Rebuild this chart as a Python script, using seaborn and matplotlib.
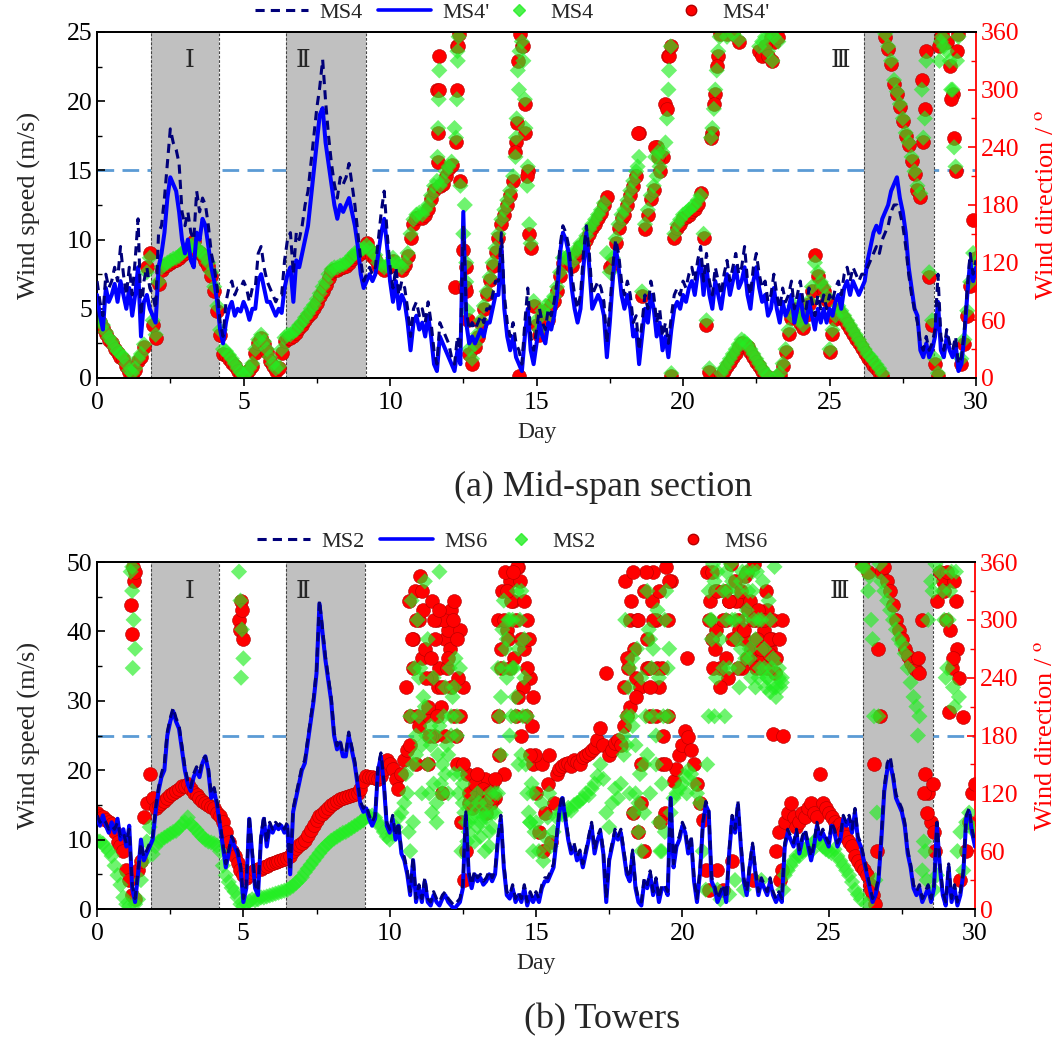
"""
Wind speed / wind direction time histories
(a) mid-span section, (b) towers
"""

import numpy as np
import matplotlib
matplotlib.use("Agg")
import matplotlib.pyplot as plt
import matplotlib.transforms as mtransforms
from matplotlib.lines import Line2D
from matplotlib.ticker import MultipleLocator
import seaborn as sns

sns.set_theme(style="ticks", rc={"axes.edgecolor": "black", "axes.linewidth": 1.3,
                                 "xtick.color": "black", "ytick.color": "black"})
plt.rcParams["font.family"] = ["Liberation Serif", "DejaVu Serif"]
plt.rcParams["mathtext.fontset"] = "stix"

# sampling positions (0.1 day)
day = np.round(np.arange(301) * 0.1, 1)

# ---------------- (a) mid-span section ----------------
ms4_speed = [
    7.0, 5.5, 4.5, 7.5, 6.5, 7.0, 8.0, 7.0, 9.5, 7.5,
    6.0, 8.0, 6.0, 8.5, 11.5, 4.5, 7.0, 8.0, 6.5, 6.0,
    5.0, 10.5, 11.0, 13.0, 15.5, 18.0, 17.0, 16.5, 15.5, 12.0,
    11.0, 12.0, 10.5, 10.0, 13.5, 12.0, 13.0, 12.5, 11.0, 9.0,
    8.0, 6.5, 4.0, 3.0, 5.5, 6.5, 7.0, 6.0, 6.5, 6.5,
    7.0, 6.5, 5.5, 6.5, 6.5, 9.0, 9.5, 8.0, 7.0, 6.5,
    6.0, 5.5, 6.0, 6.0, 8.5, 10.0, 10.5, 7.5, 10.5, 10.0,
    11.0, 12.5, 13.5, 15.5, 17.5, 19.5, 21.0, 23.0, 20.0, 17.5,
    15.5, 14.0, 13.0, 14.5, 14.0, 14.5, 15.5, 14.0, 12.5, 10.5,
    8.5, 7.0, 7.5, 8.0, 7.5, 8.0, 10.0, 12.0, 13.5, 10.5,
    8.0, 6.5, 8.0, 6.0, 7.0, 6.5, 5.0, 3.0, 5.0, 5.5,
    4.5, 5.0, 4.0, 5.5, 4.0, 2.0, 1.0, 4.0, 3.5, 3.0,
    2.5, 1.5, 1.0, 3.0, 2.0, 11.0, 5.0, 3.5, 4.0, 3.5,
    4.0, 4.5, 4.0, 5.0, 5.0, 6.0, 7.0, 7.0, 10.5, 6.0,
    4.0, 3.0, 4.0, 2.5, 2.0, 1.0, 4.0, 6.5, 3.0, 2.0,
    3.5, 5.0, 4.0, 3.5, 5.0, 4.5, 5.5, 7.0, 9.5, 11.0,
    10.5, 9.5, 7.5, 6.0, 5.0, 6.0, 9.0, 11.0, 9.0, 6.0,
    6.5, 7.0, 6.5, 5.5, 2.5, 5.0, 8.0, 10.0, 9.0, 7.0,
    6.0, 7.0, 6.0, 4.0, 4.5, 2.0, 4.0, 6.0, 5.0, 7.0,
    6.0, 4.0, 5.0, 3.0, 4.0, 2.5, 4.5, 6.0, 6.5, 6.0,
    7.0, 6.5, 7.5, 8.0, 7.0, 8.5, 9.5, 7.0, 9.0, 7.0,
    6.0, 8.0, 7.0, 6.0, 7.5, 8.5, 7.0, 8.0, 9.0, 7.5,
    8.0, 9.5, 7.0, 6.0, 8.0, 9.0, 7.5, 6.5, 7.0, 5.5,
    6.0, 7.5, 6.0, 5.0, 6.5, 5.5, 6.0, 7.0, 5.0, 6.0,
    7.0, 5.5, 5.0, 6.5, 5.5, 4.5, 6.0, 5.0, 6.0, 5.0,
    6.0, 5.5, 6.5, 7.0, 6.0, 7.5, 8.0, 7.0, 8.0, 7.5,
    7.0, 7.5, 7.5, 8.0, 8.5, 9.0, 9.5, 9.0, 10.0, 10.5,
    11.0, 12.0, 12.5, 12.5, 12.0, 11.0, 9.5, 7.5, 6.0, 5.0,
    4.0, 2.5, 2.0, 3.0, 2.0, 2.5, 3.5, 7.5, 3.0, 2.0,
    3.5, 2.5, 2.0, 3.0, 1.0, 1.5, 3.5, 6.5, 9.0, 7.5,
    8.5,
]
ms4p_speed = [
    6.0, 4.5, 3.5, 6.5, 5.5, 6.0, 6.8, 5.5, 7.0, 6.0,
    5.0, 6.5, 4.5, 6.0, 8.0, 3.0, 5.5, 6.0, 5.0, 4.5,
    4.0, 8.0, 9.0, 10.5, 13.0, 14.5, 14.0, 13.5, 12.0, 10.0,
    9.0, 10.0, 8.5, 8.0, 10.5, 10.0, 11.5, 11.0, 9.5, 8.0,
    7.0, 5.5, 3.5, 2.5, 4.0, 5.0, 5.5, 4.5, 5.0, 4.8,
    5.5, 5.0, 4.2, 5.0, 5.0, 7.0, 7.5, 6.5, 5.5, 5.5,
    5.0, 4.5, 5.0, 4.7, 6.5, 7.5, 8.0, 5.5, 8.5, 8.0,
    9.0, 10.0, 11.0, 13.0, 15.0, 17.0, 19.0, 19.5, 17.0, 15.5,
    14.0, 12.5, 11.5, 12.5, 12.0, 12.5, 13.0, 12.0, 11.0, 9.5,
    7.5, 6.5, 7.0, 7.5, 7.0, 7.5, 9.0, 10.5, 11.5, 9.5,
    7.0, 5.5, 7.0, 5.0, 6.0, 5.5, 4.0, 2.0, 4.0, 4.5,
    3.5, 4.0, 3.0, 4.5, 3.0, 1.0, 0.5, 3.0, 2.5, 2.0,
    1.5, 1.0, 0.5, 2.0, 1.0, 12.0, 4.0, 2.5, 3.0, 2.5,
    3.0, 3.5, 3.0, 4.0, 4.0, 5.0, 6.0, 6.0, 9.5, 5.0,
    3.0, 2.0, 3.0, 1.5, 1.0, 0.5, 3.0, 5.0, 2.0, 1.0,
    2.5, 4.0, 3.0, 2.5, 4.0, 3.5, 4.5, 6.0, 9.0, 10.5,
    10.0, 9.0, 6.5, 5.0, 4.0, 5.0, 8.0, 10.5, 8.0, 5.0,
    5.5, 6.0, 5.5, 4.5, 1.5, 4.0, 7.0, 9.5, 8.0, 6.0,
    5.0, 6.0, 5.0, 3.0, 3.5, 1.0, 3.0, 5.0, 4.0, 6.0,
    5.0, 3.0, 4.0, 2.0, 3.0, 1.5, 3.5, 5.0, 5.5, 5.0,
    6.0, 5.5, 6.5, 7.0, 6.0, 7.5, 8.5, 6.0, 8.0, 6.0,
    5.0, 7.0, 6.0, 5.0, 6.5, 7.5, 6.0, 7.0, 8.0, 6.5,
    7.0, 8.0, 6.0, 5.0, 7.0, 8.0, 6.5, 5.5, 6.0, 4.5,
    5.0, 6.5, 5.0, 4.0, 5.5, 4.5, 5.0, 6.0, 4.0, 5.0,
    6.0, 4.5, 4.0, 5.5, 4.5, 3.5, 5.0, 4.0, 5.0, 4.0,
    5.0, 4.5, 5.5, 6.0, 5.0, 6.5, 7.0, 6.0, 7.0, 6.5,
    6.0, 6.5, 7.0, 8.5, 9.5, 10.5, 11.0, 10.5, 11.5, 12.0,
    12.5, 13.5, 14.0, 14.5, 13.0, 12.0, 10.5, 8.0, 6.5, 5.0,
    4.5, 2.0, 1.5, 2.5, 1.5, 2.0, 3.0, 5.5, 2.0, 1.5,
    3.0, 2.0, 1.5, 2.5, 0.5, 1.0, 3.0, 6.0, 8.5, 7.0,
    8.0,
]
ms4_dir = [
    65, 60, 55, 48, 42, 38, 32, 28, 25, 22,
    15, 8, 5, 10, 20, 25, 35, 110, 125, 60,
    45, 100, 115, 118, 120, 122, 124, 125, 127, 130,
    133, 135, 137, 140, 134, 132, 130, 125, 120, 110,
    95, 75, 50, 30, 28, 24, 20, 15, 10, 6,
    3, 5, 10, 15, 30, 40, 45, 38, 30, 22,
    15, 10, 12, 30, 42, 45, 45, 48, 50, 55,
    58, 63, 67, 72, 76, 82, 88, 95, 100, 108,
    113, 115, 115, 117, 118, 120, 123, 127, 130, 131,
    133, 135, 138, 135, 130, 128, 120, 118, 115, 117,
    120, 125, 120, 118, 115, 120, 130, 150, 165, 170,
    172, 170, 175, 180, 190, 200, 205, 200, 205, 215,
    220, 225, 260, 340, 200, 150, 120, 30, 20, 35,
    46, 60, 75, 90, 105, 120, 135, 150, 165, 175,
    185, 195, 210, 250, 300, 350, 290, 220, 140, 80,
    60, 50, 70, 75, 65, 80, 85, 95, 110, 125,
    125, 128, 120, 130, 135, 140, 140, 148, 155, 160,
    165, 170, 175, 182, 130, 110, 125, 145, 160, 170,
    175, 185, 195, 205, 215, 230, 90, 160, 175, 190,
    200, 210, 220, 235, 245, 300, 5, 150, 160, 165,
    170, 172, 175, 178, 180, 185, 190, 150, 60, 10,
    260, 300, 340, 5, 10, 15, 20, 25, 30, 35,
    40, 38, 35, 30, 25, 20, 15, 10, 5, 3,
    358, 355, 2, 5, 15, 30, 50, 65, 75, 65,
    60, 55, 70, 80, 95, 120, 110, 100, 95, 85,
    30, 50, 65, 75, 70, 65, 60, 55, 50, 45,
    40, 35, 30, 25, 22, 18, 14, 10, 5, 358,
    345, 330, 310, 298, 285, 270, 255, 245, 230, 215,
    200, 192, 250, 330, 110, 60, 20, 5, 350, 345,
    340, 330, 300, 220, 355, 20, 40, 70, 100, 130,
    120,
]
ms4p_dir = [
    62, 58, 52, 46, 40, 36, 30, 26, 22, 20,
    12, 6, 3, 8, 18, 22, 32, 115, 130, 55,
    42, 98, 112, 116, 118, 120, 122, 123, 125, 128,
    130, 133, 135, 143, 132, 130, 127, 122, 117, 106,
    90, 70, 45, 25, 24, 20, 16, 12, 7, 3,
    1, 3, 8, 12, 26, 36, 42, 35, 27, 18,
    12, 7, 10, 26, 38, 42, 42, 44, 47, 52,
    55, 60, 64, 68, 73, 78, 85, 91, 97, 104,
    110, 112, 112, 114, 115, 117, 120, 124, 127, 128,
    130, 132, 140, 132, 127, 124, 117, 115, 112, 114,
    117, 122, 117, 115, 112, 118, 127, 146, 160, 166,
    168, 166, 170, 176, 186, 196, 300, 200, 202, 210,
    218, 222, 95, 345, 205, 133, 115, 25, 15, 32,
    43, 57, 72, 87, 102, 116, 131, 146, 160, 170,
    180, 190, 205, 245, 2, 345, 285, 215, 135, 75,
    55, 45, 65, 70, 60, 76, 80, 90, 106, 120,
    120, 124, 116, 126, 131, 136, 136, 144, 150, 156,
    160, 166, 172, 180, 188, 115, 120, 140, 156, 166,
    170, 180, 190, 200, 210, 255, 85, 155, 170, 186,
    196, 240, 215, 230, 285, 335, 2, 146, 156, 160,
    166, 168, 170, 174, 176, 181, 192, 146, 55, 6,
    255, 295, 335, 2, 7, 12, 17, 22, 26, 32,
    36, 34, 32, 27, 22, 17, 12, 7, 3, 1,
    355, 350, 1, 3, 12, 27, 46, 62, 72, 62,
    57, 52, 66, 77, 91, 128, 106, 96, 91, 81,
    27, 46, 61, 71, 66, 61, 56, 51, 46, 41,
    36, 31, 26, 21, 18, 14, 10, 6, 2, 355,
    342, 327, 306, 295, 282, 267, 252, 242, 226, 212,
    196, 188, 245, 340, 105, 55, 15, 2, 355, 350,
    350, 325, 295, 215, 358, 15, 35, 65, 96, 164,
    125,
]
# extra direction points where the direction swings quickly (vertical streaks)
extra_day_a = [11.62, 11.64, 11.66, 11.68, 12.25, 12.28, 12.31, 12.34, 12.55, 12.6,
               12.65, 14.28, 14.32, 14.36, 14.42, 14.55, 14.62, 14.68, 14.75, 18.45,
               19.05, 19.15, 19.45, 19.52, 19.58, 20.95, 21.05, 21.15, 21.25, 21.5,
               21.7, 21.9, 22.6, 22.7, 22.8, 22.9, 23.05, 23.25, 28.15, 28.25,
               28.75, 28.85, 29.15, 29.25, 29.35]
extra_ms4_dir = [230, 260, 290, 320, 250, 290, 330, 355, 180, 100,
                 70, 230, 270, 320, 340, 330, 260, 200, 160, 220,
                 230, 235, 270, 320, 345, 250, 280, 320, 355, 355,
                 358, 352, 345, 350, 355, 340, 330, 350, 300, 270,
                 330, 355, 300, 240, 330]
extra_ms4p_dir = [225, 255, 300, 335, 245, 300, 345, 358, 95, 90,
                  60, 235, 265, 330, 358, 345, 255, 210, 150, 255,
                  240, 230, 280, 335, 345, 250, 285, 325, 358, 358,
                  358, 350, 340, 335, 345, 335, 330, 355, 310, 280,
                  345, 358, 290, 250, 340]

# ---------------- (b) towers ----------------
ms2_speed = [
    13.5, 12.5, 13.0, 12.5, 11.5, 12.0, 11.5, 12.5, 10.5, 11.0,
    9.5, 11.5, 3.5, 1.5, 5.5, 9.5, 7.5, 8.5, 9.5, 10.5,
    14.5, 17.5, 19.5, 21.0, 25.5, 27.5, 29.0, 27.5, 26.5, 23.5,
    20.5, 18.5, 17.5, 19.5, 20.5, 19.5, 21.5, 22.0, 20.5, 16.5,
    17.5, 15.5, 12.5, 9.5, 6.5, 8.5, 10.5, 9.5, 8.5, 6.5,
    1.5, 3.5, 13.5, 8.5, 3.5, 2.5, 10.5, 13.5, 9.5, 12.5,
    11.5, 12.5, 12.0, 12.5, 11.5, 12.5, 5.5, 14.5, 16.5, 18.5,
    20.5, 21.5, 24.5, 27.5, 30.5, 34.5, 44.5, 40.5, 36.5, 33.5,
    30.5, 25.5, 23.5, 24.5, 22.5, 22.5, 25.5, 23.5, 21.5, 18.5,
    15.5, 14.5, 15.0, 13.5, 12.5, 13.5, 20.5, 22.5, 18.5, 12.5,
    11.5, 13.5, 10.5, 12.5, 8.5, 7.5, 5.5, 2.5, 7.5, 1.5,
    3.5, 1.5, 4.5, 1.5, 1.0, 2.5, 1.5, 1.0, 2.0, 2.5,
    1.5, 1.0, 0.5, 1.0, 1.5, 3.5, 14.0, 5.5, 3.5, 5.5,
    4.5, 5.0, 4.0, 4.5, 5.5, 4.5, 5.5, 10.5, 13.5, 6.5,
    2.5, 2.0, 3.5, 1.5, 2.5, 1.5, 3.5, 1.0, 2.5, 1.5,
    2.5, 1.5, 3.5, 4.5, 4.5, 5.5, 6.5, 10.5, 14.5, 16.5,
    13.5, 10.5, 8.5, 9.5, 7.5, 8.5, 6.5, 8.5, 10.5, 12.5,
    8.5, 10.5, 11.5, 8.5, 1.5, 7.5, 9.5, 11.5, 10.5, 11.5,
    8.5, 5.5, 4.5, 8.5, 3.5, 1.5, 1.0, 4.5, 3.5, 5.5,
    2.5, 4.5, 1.5, 3.5, 3.5, 2.5, 16.5, 6.5, 9.5, 10.5,
    12.5, 11.5, 8.5, 10.5, 4.5, 1.5, 5.5, 12.5, 15.5, 14.5,
    4.5, 3.5, 1.5, 2.5, 3.5, 1.5, 8.5, 13.5, 11.5, 15.5,
    9.5, 4.5, 2.5, 6.5, 9.5, 5.5, 2.5, 4.5, 3.5, 2.5,
    4.5, 2.5, 1.5, 2.5, 1.5, 9.5, 11.5, 10.5, 9.5, 11.5,
    8.5, 10.5, 11.5, 9.5, 7.5, 9.5, 12.5, 10.5, 11.5, 10.5,
    9.5, 12.5, 11.5, 9.5, 10.5, 13.5, 12.5, 13.5, 11.5, 14.5,
    10.5, 9.5, 7.5, 5.5, 3.5, 1.5, 2.5, 4.5, 10.5, 17.5,
    21.0, 22.0, 19.5, 16.5, 15.5, 14.5, 12.5, 8.5, 6.5, 3.5,
    2.5, 3.5, 1.5, 2.5, 3.5, 1.5, 3.5, 12.5, 6.5, 2.5,
    1.0, 6.5, 1.5, 3.5, 1.0, 2.5, 5.5, 13.5, 14.5, 11.5,
    9.5,
]
ms6_speed = [
    13, 12, 13.5, 12, 11, 12.5, 11, 13, 10, 11.5,
    9, 12, 3, 1, 5, 10, 7, 8, 9, 10,
    14, 17, 19, 20, 25, 27, 28.5, 27, 26, 23,
    20, 18, 17, 19, 20, 19, 21, 22, 20, 16,
    17, 15, 12, 9, 6, 8, 10, 9, 8, 6,
    1, 3, 13, 8, 3, 2, 10, 13, 9, 12,
    11, 12, 11.5, 12, 11, 12, 5, 14, 16, 18,
    20, 21, 24, 27, 30, 34, 44, 40, 36, 33,
    30, 25, 23, 24, 22, 22, 25, 23, 21, 18,
    15, 14, 14.5, 13, 12, 13, 20, 22, 18, 12,
    11, 13, 10, 12, 8, 7, 5, 2, 7, 1,
    3, 1, 4, 1, 0.5, 2, 1, 0.5, 1.5, 2,
    1, 0.5, 0, 0.5, 1, 3, 13.5, 5, 3, 5,
    4, 4.5, 3.5, 4, 5, 4, 5, 10, 13, 6,
    2, 1.5, 3, 1, 2, 1, 3, 0.5, 2, 1,
    2, 1, 3, 4, 4, 5, 6, 10, 14, 16,
    13, 10, 8, 9, 7, 8, 6, 8, 10, 12,
    8, 10, 11, 8, 1, 7, 9, 11, 10, 11,
    8, 5, 4, 8, 3, 1, 0.5, 4, 3, 5,
    2, 4, 1, 3, 3, 2, 16, 6, 9, 10,
    12, 11, 8, 10, 4, 1, 5, 12, 15, 14,
    4, 3, 1, 2, 3, 1, 8, 13, 11, 15,
    9, 4, 2, 6, 9, 5, 2, 4, 3, 2,
    4, 2, 1, 2, 1, 9, 11, 10, 9, 11,
    8, 10, 11, 9, 7, 9, 12, 10, 11, 10,
    9, 12, 11, 9, 10, 13, 12, 13, 11, 14,
    10, 9, 7, 5, 3, 1, 2, 4, 10, 17,
    20, 21, 19, 16, 15, 14, 12, 8, 6, 3,
    2, 3, 1, 2, 3, 1, 3, 12, 6, 2,
    0.5, 6, 1, 3, 0.5, 2, 5, 13, 14, 11,
    9,
]
ms2_dir = [
    71, 70, 68, 64, 60, 55, 45, 35, 25, 12,
    5, 3, 355, 5, 10, 30, 50, 70, 85, 57,
    65, 70, 72, 74, 76, 78, 80, 81, 84, 88,
    90, 95, 88, 85, 82, 78, 75, 72, 70, 69,
    68, 66, 60, 45, 35, 28, 22, 18, 12, 5,
    3, 5, 8, 10, 9, 10, 12, 12, 13, 14,
    15, 16, 17, 18, 19, 20, 22, 24, 27, 30,
    33, 38, 42, 46, 50, 54, 58, 62, 65, 68,
    71, 73, 75, 77, 79, 80, 82, 84, 86, 88,
    90, 92, 96, 96, 97, 95, 90, 85, 80, 75,
    72, 78, 85, 95, 100, 110, 120, 60, 150, 180,
    200, 170, 340, 150, 190, 130, 110, 350, 120, 140,
    160, 200, 230, 180, 140, 110, 90, 80, 95, 100,
    85, 90, 100, 95, 80, 85, 100, 120, 160, 250,
    280, 300, 250, 200, 150, 330, 240, 120, 90, 60,
    90, 60, 110, 75, 95, 65, 80, 95, 100, 98,
    100, 105, 102, 108, 110, 112, 115, 120, 118, 125,
    130, 138, 150, 135, 100, 85, 110, 125, 115, 130,
    180, 170, 250, 190, 120, 80, 60, 150, 330, 280,
    200, 150, 90, 60, 300, 250, 100, 115, 120, 125,
    130, 138, 144, 140, 130, 120, 110, 60, 20, 200,
    280, 340, 20, 10, 250, 350, 15, 300, 30, 250,
    340, 20, 310, 270, 350, 230, 300, 30, 250, 240,
    225, 230, 220, 240, 235, 35, 40, 45, 50, 55,
    55, 60, 62, 65, 60, 70, 72, 68, 65, 62,
    60, 58, 62, 55, 50, 45, 40, 35, 28, 20,
    15, 10, 355, 5, 345, 280, 30, 200, 340, 330,
    320, 310, 300, 290, 280, 275, 265, 250, 235, 220,
    210, 200, 40, 60, 300, 340, 20, 35, 350, 330,
    240, 300, 350, 210, 60, 80, 40, 90, 100, 85,
    80,
]
ms6_dir = [
    100, 97, 95, 92, 90, 88, 80, 70, 65, 60,
    40, 30, 15, 10, 40, 50, 95, 110, 140, 115,
    105, 108, 110, 112, 115, 118, 120, 122, 125, 128,
    128, 130, 125, 120, 118, 115, 112, 110, 108, 106,
    105, 100, 96, 90, 80, 70, 60, 55, 48, 40,
    35, 32, 35, 38, 40, 42, 42, 44, 45, 47,
    48, 49, 50, 51, 52, 53, 55, 60, 63, 66,
    68, 72, 77, 82, 87, 92, 96, 99, 102, 105,
    108, 110, 112, 114, 115, 116, 117, 118, 119, 120,
    125, 133, 138, 137, 137, 136, 135, 138, 145, 155,
    150, 145, 135, 125, 140, 155, 165, 200, 280, 150,
    300, 260, 200, 150, 240, 180, 300, 250, 120, 280,
    290, 310, 200, 150, 290, 230, 60, 110, 120, 125,
    110, 130, 115, 125, 120, 130, 115, 200, 250, 140,
    290, 340, 320, 200, 355, 180, 270, 300, 240, 150,
    120, 80, 150, 100, 130, 70, 110, 140, 145, 148,
    150, 152, 148, 155, 153, 150, 158, 160, 162, 165,
    168, 175, 188, 170, 245, 160, 165, 172, 175, 170,
    230, 200, 300, 100, 240, 80, 150, 60, 250, 200,
    350, 300, 230, 150, 100, 200, 340, 133, 145, 160,
    170, 185, 178, 165, 150, 130, 110, 92, 40, 20,
    280, 330, 40, 250, 20, 300, 320, 50, 280, 300,
    320, 280, 350, 260, 30, 300, 270, 250, 290, 310,
    270, 182, 60, 80, 40, 90, 100, 110, 95, 85,
    90, 100, 95, 105, 110, 100, 95, 140, 110, 105,
    100, 95, 90, 85, 88, 80, 75, 70, 65, 55,
    50, 45, 40, 35, 25, 15, 5, 270, 350, 355,
    340, 330, 315, 300, 290, 280, 270, 262, 255, 250,
    248, 245, 300, 140, 120, 90, 80, 320, 350, 340,
    300, 204, 250, 340, 270, 30, 199, 60, 90, 120,
    130,
]
extra_day_b = [1.15, 1.2, 1.22, 1.25, 1.3, 4.85, 4.9, 4.92, 4.95, 5.0,
               10.65, 10.75, 10.85, 10.95, 11.05, 11.15, 11.25, 11.35, 11.45, 11.55,
               11.65, 11.75, 11.85, 11.95, 12.05, 12.15, 12.25, 12.35, 12.45, 12.55,
               12.65, 13.05, 13.25, 13.45, 13.75, 13.85, 13.95, 14.05, 14.15, 14.25,
               14.35, 14.45, 14.55, 14.65, 14.75, 14.85, 14.95, 15.25, 15.45, 18.05,
               18.15, 18.25, 18.35, 18.45, 18.55, 18.75, 18.85, 18.95, 19.15, 19.25,
               19.35, 19.45, 19.55, 20.15, 20.85, 20.95, 21.05, 21.15, 21.45, 21.55,
               21.65, 21.85, 21.95, 22.05, 22.15, 22.25, 22.35, 22.45, 22.55, 22.65,
               22.75, 22.85, 22.95, 23.05, 23.15, 23.35, 23.45, 26.15, 26.35, 26.45,
               26.55, 26.65, 26.75, 28.05, 28.25, 28.35, 28.55, 28.65, 28.95, 29.05,
               29.15, 29.25, 29.35, 29.45,
               10.55, 10.7, 10.8, 10.9, 11.0, 11.1, 11.2, 11.3, 11.4, 11.5,
               11.6, 11.7, 11.8, 11.9, 12.0, 12.1, 12.2, 12.3, 12.4, 12.5,
               12.7, 12.8, 12.9, 13.0, 13.1, 13.2, 13.3, 13.4, 13.5, 13.6,
               13.7, 13.8, 13.9, 14.0, 14.1, 14.2, 14.3, 14.4, 14.5, 14.6,
               14.7, 14.8, 14.9, 18.0, 18.1, 18.2, 18.3, 18.4, 18.5, 18.6,
               18.7, 18.8, 18.9, 19.0, 19.1, 19.2, 19.3, 19.4, 19.5, 20.9,
               21.0, 21.1, 21.2, 21.3, 21.4, 21.5, 21.6, 21.7, 21.8, 21.9,
               22.0, 22.1, 22.2, 22.3, 22.4, 22.5, 22.6, 22.7, 22.8, 22.9,
               23.0, 23.1, 23.2, 23.3, 23.4]
extra_ms2_dir = [350, 330, 250, 300, 270, 350, 320, 240, 290, 260,
                 80, 320, 250, 300, 250, 220, 180, 120, 100, 180,
                 160, 130, 200, 170, 250, 220, 260, 120, 60, 100,
                 70, 110, 60, 120, 200, 290, 270, 300, 200, 250,
                 330, 300, 200, 150, 100, 130, 80, 50, 120, 300,
                 230, 200, 100, 270, 140, 200, 290, 250, 310, 60,
                 200, 330, 270, 120, 150, 300, 358, 240, 200, 330,
                 358, 280, 230, 350, 260, 330, 240, 300, 350, 250,
                 340, 230, 320, 250, 355, 230, 20, 355, 330, 300,
                 200, 100, 358, 180, 70, 30, 330, 358, 300, 250,
                 330, 230, 350, 220,
                 140, 200, 90, 160, 240, 120, 210, 280, 170, 240,
                 90, 190, 150, 230, 120, 180, 140, 200, 250, 130,
                 90, 110, 70, 120, 75, 95, 110, 65, 100, 120,
                 250, 220, 320, 240, 180, 300, 220, 270, 160, 280,
                 200, 90, 120, 160, 200, 120, 260, 170, 110, 240,
                 100, 160, 120, 270, 180, 240, 130, 80, 200, 330,
                 300, 200, 350, 280, 330, 300, 250, 340, 300, 330,
                 270, 300, 350, 260, 330, 280, 240, 300, 270, 240,
                 300, 260, 230, 250, 240]
extra_ms6_dir = [315, 285, 355, 340, 350, 300, 290, 320, 310, 280,
                 320, 280, 330, 200, 345, 310, 240, 180, 320, 280,
                 230, 210, 300, 250, 270, 300, 180, 240, 90, 30,
                 140, 120, 135, 110, 160, 330, 350, 280, 320, 260,
                 355, 340, 230, 200, 280, 190, 160, 60, 160, 340,
                 250, 320, 270, 300, 230, 350, 250, 320, 250, 90,
                 180, 355, 340, 260, 350, 320, 250, 290, 330, 240,
                 358, 320, 290, 250, 345, 310, 270, 358, 280, 300,
                 260, 330, 265, 280, 245, 30, 180, 358, 350, 20,
                 150, 60, 200, 260, 120, 100, 130, 60, 330, 350,
                 290, 260, 320, 240,
                 230, 170, 250, 300, 190, 330, 270, 210, 260, 300,
                 200, 310, 230, 180, 260, 230, 320, 280, 200, 150,
                 120, 105, 130, 140, 110, 125, 100, 120, 115, 135,
                 300, 270, 300, 330, 250, 350, 300, 220, 280, 320,
                 250, 160, 220, 190, 260, 210, 350, 220, 300, 110,
                 330, 280, 230, 300, 200, 330, 250, 150, 300, 300,
                 350, 270, 330, 230, 300, 260, 320, 280, 340, 250,
                 330, 290, 260, 320, 300, 250, 310, 270, 300, 250,
                 280, 300, 260, 280, 300]

# storm windows and their labels
storms = [(1.83, 4.17), (6.45, 9.17), (26.17, 28.55)]
storm_names = ["Ⅰ", "Ⅱ", "Ⅲ"]
storm_label_x = [3.17, 7.03, 25.36]

GREEN = "#22ee22"
RED = "#ff0000"
BLUE = "#0000ff"
NAVY = "#00007a"
TICK_FS = 18.5


def draw_panel(ax, dash, solid, green, red, ex_day, ex_green, ex_red,
               vmax, vstep, thresh):
    tw = ax.twinx()
    ax.set_zorder(tw.get_zorder() + 1)
    ax.patch.set_visible(False)

    # threshold line, storm windows and direction points live on the twin axis
    blend = mtransforms.blended_transform_factory(tw.transData, ax.transData)
    tw.plot([0, 30], [thresh, thresh], transform=blend, color="#5b9bd5",
            lw=2.0, dashes=(6, 3), zorder=0.5)
    for a, b in storms:
        tw.axvspan(a, b, color="#c0c0c0", lw=0, zorder=1)
        for edge in (a, b):
            tw.axvline(edge, color="#444444", lw=0.8, dashes=(2.5, 1.5), zorder=1.1)

    sns.scatterplot(x=day, y=red, ax=tw, color=RED, marker="o", s=100,
                    edgecolor="#b00000", linewidth=0.4, zorder=2, legend=False)
    sns.scatterplot(x=ex_day, y=ex_red, ax=tw, color=RED, marker="o", s=100,
                    edgecolor="#b00000", linewidth=0.4, zorder=2, legend=False)
    sns.scatterplot(x=day, y=green, ax=tw, color=GREEN, marker="D", s=68,
                    edgecolor="none", alpha=0.65, zorder=3, legend=False)
    sns.scatterplot(x=ex_day, y=ex_green, ax=tw, color=GREEN, marker="D", s=68,
                    edgecolor="none", alpha=0.65, zorder=3, legend=False)

    # wind speed lines on the main axis (drawn above the scatter)
    sns.lineplot(x=day, y=solid, ax=ax, color=BLUE, lw=2.9, estimator=None,
                 legend=False, zorder=3)
    sns.lineplot(x=day, y=dash, ax=ax, color=NAVY, lw=2.2, estimator=None,
                 linestyle=(0, (3, 2)), legend=False, zorder=4)

    for x, name in zip(storm_label_x, storm_names):
        ax.text(x, 0.915, name, transform=ax.get_xaxis_transform(), ha="center",
                va="center", fontsize=18, family=["Liberation Serif", "DejaVu Serif"])

    ax.set_xlim(0, 30)
    ax.set_ylim(0, vmax)
    tw.set_ylim(0, 360)
    ax.xaxis.set_major_locator(MultipleLocator(5))
    ax.xaxis.set_minor_locator(MultipleLocator(2.5))
    ax.yaxis.set_major_locator(MultipleLocator(vstep))
    ax.yaxis.set_minor_locator(MultipleLocator(vstep / 2))
    tw.yaxis.set_major_locator(MultipleLocator(60))
    tw.yaxis.set_minor_locator(MultipleLocator(30))

    ax.tick_params(axis="x", which="major", direction="out", length=6, width=1.2,
                   labelsize=TICK_FS, pad=4)
    ax.tick_params(axis="x", which="minor", direction="out", length=3.5, width=1.0)
    ax.tick_params(axis="y", which="major", direction="in", length=6, width=1.2,
                   labelsize=TICK_FS)
    ax.tick_params(axis="y", which="minor", direction="in", length=3.5, width=1.0)
    tw.tick_params(axis="y", which="major", direction="in", length=6, width=1.2,
                   colors=RED, labelsize=TICK_FS)
    tw.tick_params(axis="y", which="minor", direction="in", length=3.5, width=1.0,
                   colors=RED)
    ax.spines["right"].set_visible(False)
    tw.spines["right"].set_color(RED)
    tw.spines["right"].set_linewidth(1.3)

    ax.set_xlabel("Day", fontsize=17, labelpad=6)
    ax.set_ylabel("Wind speed (m/s)", fontsize=19, labelpad=18)
    tw.set_ylabel("Wind direction / $^{\\mathrm{o}}$", fontsize=19, color=RED, labelpad=12)
    return tw


def add_legends(fig, y, names):
    line_handles = [
        Line2D([], [], color=NAVY, lw=2.2, linestyle=(0, (3, 2))),
        Line2D([], [], color=BLUE, lw=2.6),
    ]
    fig.legend(line_handles, names, loc="center", bbox_to_anchor=(0.35, y), ncol=2,
               frameon=False, fontsize=16, handlelength=2.4, handletextpad=0.5,
               columnspacing=0.7, borderaxespad=0)
    dot_handles = [
        Line2D([], [], color=GREEN, marker="D", ms=6, lw=0, alpha=0.8),
        Line2D([], [], color=RED, marker="o", ms=7.5, lw=0, markeredgecolor="#b00000"),
    ]
    fig.legend(dot_handles, names, loc="center", bbox_to_anchor=(0.597, y), ncol=2,
               frameon=False, fontsize=16, handlelength=1.8, handletextpad=0.5,
               columnspacing=3.5, borderaxespad=0)


fig = plt.figure(figsize=(10.63, 10.41), dpi=100)
ax_a = fig.add_axes([0.0913, 0.6369, 0.8269, 0.3324])
ax_b = fig.add_axes([0.0913, 0.1268, 0.8259, 0.3333])

draw_panel(ax_a, ms4_speed, ms4p_speed, ms4_dir, ms4p_dir,
           extra_day_a, extra_ms4_dir, extra_ms4p_dir, 25, 5, 15)
draw_panel(ax_b, ms2_speed, ms6_speed, ms2_dir, ms6_dir,
           extra_day_b, extra_ms2_dir, extra_ms6_dir, 50, 10, 25)

add_legends(fig, 0.988, ["MS4", "MS4'"])
add_legends(fig, 0.480, ["MS2", "MS6"])

fig.text(0.567, 0.532, "(a) Mid-span section", ha="center", va="center", fontsize=26)
fig.text(0.566, 0.020, "(b) Towers", ha="center", va="center", fontsize=26)

fig.savefig("out.png", dpi=100)
plt.close(fig)
